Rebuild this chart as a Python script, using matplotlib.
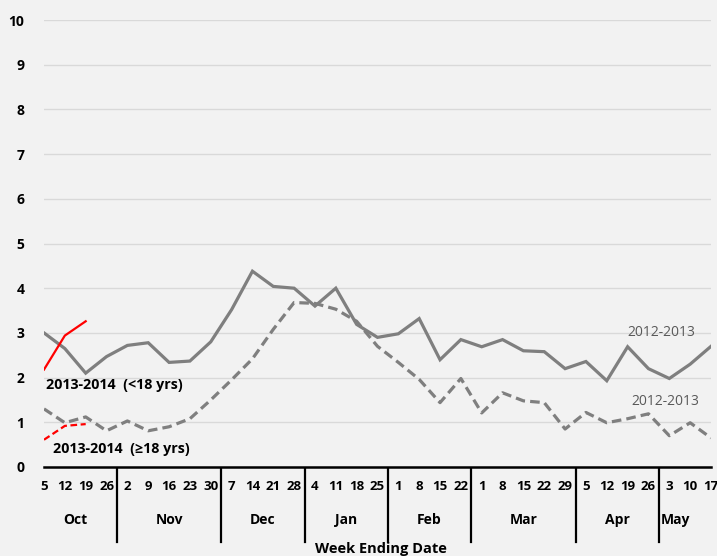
import matplotlib
matplotlib.use('Agg')
import matplotlib.pyplot as plt
import matplotlib.transforms as mtransforms

plt.rcParams['font.family'] = ['Open Sans', 'DejaVu Sans']

week_labels = ['5', '12', '19', '26', '2', '9', '16', '23', '30', '7', '14', '21', '28',
               '4', '11', '18', '25', '1', '8', '15', '22', '1', '8', '15', '22', '29',
               '5', '12', '19', '26', '3', '10', '17']
months = ['Oct', 'Nov', 'Dec', 'Jan', 'Feb', 'Mar', 'Apr', 'May']
weeks_per_month = [4, 5, 4, 4, 4, 5, 4, 3]

# 2012-2013 season, under 18
prev_young = [3.0, 2.65, 2.1, 2.47, 2.72, 2.78, 2.34, 2.37, 2.8, 3.52, 4.38, 4.04, 4.0,
              3.6, 4.0, 3.19, 2.9, 2.98, 3.32, 2.4, 2.85, 2.69, 2.85, 2.6, 2.58, 2.2,
              2.36, 1.93, 2.69, 2.2, 1.98, 2.3, 2.7]
# 2012-2013 season, 18 and over
prev_adult = [1.3, 0.99, 1.12, 0.81, 1.03, 0.81, 0.9, 1.08, 1.5, 1.95, 2.42, 3.08, 3.68,
              3.66, 3.53, 3.26, 2.7, 2.34, 1.96, 1.44, 1.98, 1.21, 1.66, 1.48, 1.44, 0.85,
              1.22, 0.99, 1.08, 1.19, 0.7, 0.99, 0.65]
# 2013-2014 season so far
cur_young = [2.18, 2.94, 3.26]
cur_adult = [0.61, 0.92, 0.96]

bg = '#f2f2f2'
fig = plt.figure(figsize=(7.17, 5.56), dpi=100, facecolor=bg)
ax = fig.add_axes([44/717, 1 - 467/556, 667/717, 447/556])
ax.set_facecolor(bg)

x = list(range(len(week_labels)))
ax.plot(x, prev_young, color='#7f7f7f', lw=2.3, solid_joinstyle='miter')
ax.plot(x, prev_adult, color='#7f7f7f', lw=2.3, dashes=(3, 1.6))
ax.plot(range(len(cur_young)), cur_young, color='#ff0000', lw=1.6)
ax.plot(range(len(cur_adult)), cur_adult, color='#ff0000', lw=1.6, dashes=(3, 1.6))

ax.set_xlim(0, len(week_labels) - 1)
ax.set_ylim(0, 10)
ax.set_yticks(range(11))
ax.grid(axis='y', color='#d9d9d9', lw=1)
ax.set_axisbelow(True)
for s in ['top', 'right', 'left']:
    ax.spines[s].set_visible(False)
ax.spines['bottom'].set_linewidth(1.8)
ax.tick_params(axis='y', length=0, pad=14, labelsize=10)
ax.tick_params(axis='x', length=0, pad=9, labelsize=9.5)
ax.set_xticks(x)
ax.set_xticklabels(week_labels)
for lab in ax.get_xticklabels() + ax.get_yticklabels():
    lab.set_fontweight('bold')

# month separators and month labels under the axis
trans = mtransforms.blended_transform_factory(ax.transData, ax.transAxes)
start = 0
for i, (m, n) in enumerate(zip(months, weeks_per_month)):
    end = start + n
    if i < len(months) - 1:
        ax.plot([end - 0.5, end - 0.5], [-0.004, -0.168], color='black', lw=1.6,
                transform=trans, clip_on=False)
    if m == 'May':
        ax.text(start - 0.4, -0.119, m, transform=trans, ha='left', va='center',
                fontsize=10, fontweight='bold')
    else:
        ax.text(start + (n - 1) / 2, -0.119, m, transform=trans, ha='center',
                va='center', fontsize=10, fontweight='bold')
    start = end

ax.text(0.505, -0.184, 'Week Ending Date', transform=ax.transAxes, ha='center',
        va='center', fontsize=10.5, fontweight='bold')

ax.text(0.1, 1.83, '2013-2014  (<18 yrs)', fontsize=10.3, fontweight='bold', va='center')
ax.text(0.45, 0.4, '2013-2014  (\u226518 yrs)', fontsize=10.3, fontweight='bold', va='center')
ax.text(28.0, 3.0, '2012-2013', fontsize=10, color='#595959', va='center')
ax.text(28.2, 1.47, '2012-2013', fontsize=10, color='#595959', va='center')

fig.savefig('out.png', dpi=100, facecolor=bg)
